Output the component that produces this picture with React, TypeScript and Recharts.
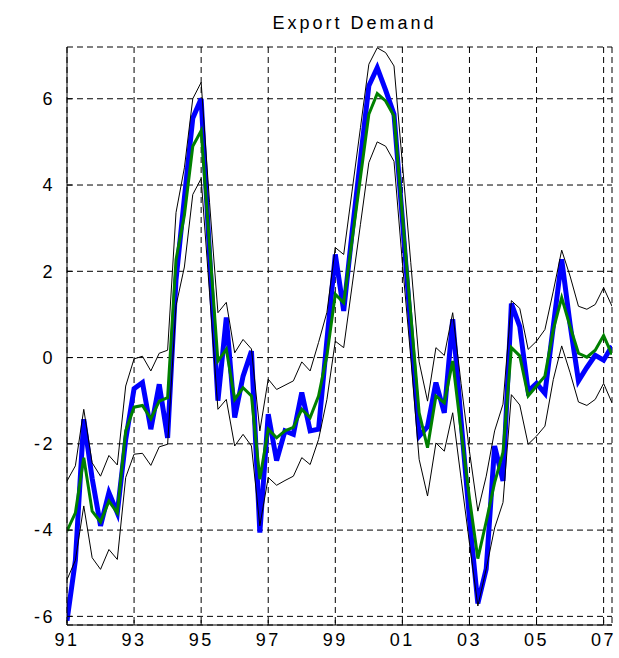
import React from 'react';
import { LineChart, Line, XAxis, YAxis, CartesianGrid } from 'recharts';

// quarterly observations, 1991Q1 .. 2007Q2
const startYear = 1991;

const actual = [
  -6.1, -4.7, -1.43, -2.8, -3.9, -3.13, -3.6, -1.9, -0.72, -0.58, -1.66, -0.62, -1.86,
  1.8, 3.7, 5.55, 6.0, 2.4, -1.0, 0.93, -1.39, -0.43, 0.15, -4.06,
  -1.31, -2.39, -1.7, -1.78, -0.81, -1.7, -1.66, 0.4, 2.39, 1.08, 2.9, 4.6,
  6.3, 6.72, 6.2, 5.64, 3.2, 0.7, -1.82, -1.6, -0.58, -1.28, 0.89, -1.46,
  -3.73, -5.7, -4.9, -2.05, -2.86, 1.25, 0.72, -0.78, -0.6, -0.83, 0.73, 2.28,
  0.77, -0.54, -0.23, 0.05, -0.06, 0.27,
];

const median = [
  -4.02, -3.6, -2.32, -3.56, -3.81, -3.33, -3.6, -1.7, -1.15, -1.11, -1.42, -1.01, -0.93,
  2.27, 3.3, 4.9, 5.26, 2.6, -0.08, 0.19, -0.97, -0.7, -0.89, -2.82,
  -1.66, -1.86, -1.7, -1.62, -1.2, -1.39, -0.89, 0.05, 1.47, 1.27, 2.72, 4.18,
  5.64, 6.12, 5.95, 5.6, 3.3, 1.0, -1.28, -2.09, -0.89, -1.05, -0.08, -1.7,
  -3.26, -4.66, -3.8, -2.9, -2.2, 0.23, 0.04, -0.89, -0.66, -0.43, 0.65, 1.39,
  0.72, 0.1, 0.01, 0.17, 0.51, 0.07,
];

const upperBand = [
  -2.86, -2.51, -1.2, -2.44, -2.75, -2.27, -2.49, -0.66, -0.03, 0.03, -0.31, 0.1, 0.17,
  3.36, 4.4, 6.0, 6.38, 3.6, 1.04, 1.28, 0.11, 0.42, 0.2, -1.7,
  -0.5, -0.74, -0.64, -0.54, -0.1, -0.31, 0.35, 1.05, 2.55, 2.39, 3.86, 5.33,
  6.8, 7.18, 7.07, 6.76, 4.5, 2.2, -0.1, -1.01, 0.23, 0.05, 1.04, -0.6,
  -2.17, -3.56, -2.75, -1.7, -1.08, 1.32, 1.14, 0.19, 0.38, 0.65, 1.54, 2.49,
  1.89, 1.19, 1.12, 1.23, 1.62, 1.19,
];

const lowerBand = [
  -5.15, -4.7, -3.44, -4.64, -4.91, -4.45, -4.68, -2.78, -2.24, -2.22, -2.5, -2.07, -2.01,
  1.2, 2.1, 3.78, 4.15, 1.5, -1.2, -0.97, -2.05, -1.78, -2.05, -3.9,
  -2.78, -2.96, -2.85, -2.75, -2.32, -2.48, -1.9, -0.97, 0.38, 0.23, 1.66, 3.09,
  4.52, 5.0, 4.9, 4.55, 2.2, 0.0, -2.36, -3.21, -1.98, -2.17, -1.28, -2.8,
  -4.3, -5.76, -4.9, -3.95, -3.36, -0.86, -1.1, -2.01, -1.82, -1.59, -0.51, 0.27,
  -0.35, -1.03, -1.11, -0.97, -0.6, -1.05,
];

const xTicks = [1991, 1993, 1995, 1997, 1999, 2001, 2003, 2005, 2007];
const yTicks = [-6, -4, -2, 0, 2, 4, 6];

const data = actual.map((v, i) => ({
  t: startYear + i / 4,
  actual: v,
  median: median[i],
  upper: upperBand[i],
  lower: lowerBand[i],
}));

const font = { fontFamily: '"Liberation Sans", Arial, sans-serif', fontSize: 18, fill: '#000', letterSpacing: 2.5 };
const yearLabel = (v: number) => String(v).slice(2);
const blank = () => '';

export default function App() {
  return (
    <div style={{ position: 'absolute', left: 0, top: 0, width: 619, height: 658, background: '#fff' }}>
      <div
        style={{
          position: 'absolute',
          left: 77,
          width: 555,
          top: 12,
          textAlign: 'center',
          fontFamily: '"Liberation Sans", Arial, sans-serif',
          fontSize: 18,
          lineHeight: '22px',
          letterSpacing: 3,
          color: '#000',
        }}
      >
        Export Demand
      </div>
      <LineChart width={619} height={658} data={data} margin={{ top: 47, right: 7, bottom: 3, left: 7 }}>
        <CartesianGrid stroke="#000" strokeDasharray="6 4" />
        <XAxis
          dataKey="t"
          type="number"
          domain={[1991, 2007.25]}
          ticks={xTicks}
          interval={0}
          allowDataOverflow
          height={30}
          tickFormatter={yearLabel}
          tick={font}
          tickSize={-5}
          tickMargin={13}
          axisLine={{ stroke: '#000' }}
          tickLine={{ stroke: '#000' }}
        />
        <XAxis
          xAxisId="top"
          orientation="top"
          dataKey="t"
          type="number"
          domain={[1991, 2007.25]}
          ticks={xTicks}
          interval={0}
          allowDataOverflow
          height={0}
          tickFormatter={blank}
          tickSize={-5}
          axisLine={{ stroke: '#000' }}
          tickLine={{ stroke: '#000' }}
        />
        <YAxis
          type="number"
          domain={[-6.2, 7.2]}
          ticks={yTicks}
          interval={0}
          allowDataOverflow
          width={60}
          tick={font}
          tickSize={-5}
          tickMargin={17}
          axisLine={{ stroke: '#000' }}
          tickLine={{ stroke: '#000' }}
        />
        <YAxis
          yAxisId="right"
          orientation="right"
          type="number"
          domain={[-6.2, 7.2]}
          ticks={yTicks}
          interval={0}
          allowDataOverflow
          width={0}
          tickFormatter={blank}
          tickSize={-5}
          axisLine={{ stroke: '#000' }}
          tickLine={{ stroke: '#000' }}
        />
        <Line type="linear" dataKey="actual" stroke="#0000ff" strokeWidth={5} dot={false} isAnimationActive={false} />
        <Line type="linear" dataKey="median" stroke="#008000" strokeWidth={3} dot={false} isAnimationActive={false} />
        <Line type="linear" dataKey="upper" stroke="#000" strokeWidth={1} dot={false} isAnimationActive={false} />
        <Line type="linear" dataKey="lower" stroke="#000" strokeWidth={1} dot={false} isAnimationActive={false} />
      </LineChart>
    </div>
  );
}
